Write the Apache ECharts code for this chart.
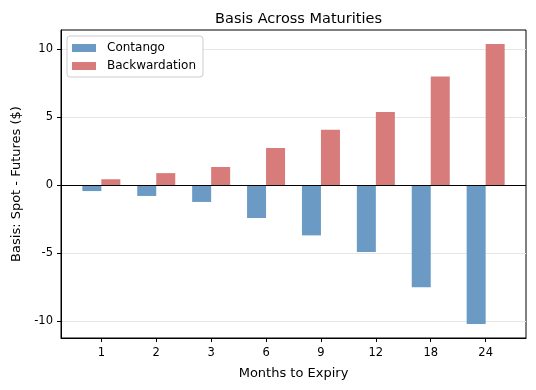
<!DOCTYPE html>
<html>
<head>
<meta charset="utf-8">
<script src="https://cdn.jsdelivr.net/npm/echarts@6/dist/echarts.min.js"></script>
<style>html,body{margin:0;padding:0;background:#fff}#c{width:536px;height:390px}</style>
</head>
<body>
<div id="c"></div>
<script>
const categories = ['1', '2', '3', '6', '9', '12', '18', '24'];
const contango = [-0.42, -0.78, -1.22, -2.4, -3.68, -4.9, -7.5, -10.2];
const backwardation = [0.45, 0.9, 1.35, 2.75, 4.1, 5.4, 8.0, 10.4];
const yTicks = [-10, -5, 0, 5, 10];

const FONT = 'DejaVu Sans';
const chart = echarts.init(document.getElementById('c'), null, {renderer: 'canvas'});
const xIdx = categories.map((c, i) => i);

chart.setOption({
  animation: false,
  textStyle: {fontFamily: FONT},
  title: {
    text: 'Basis Across Maturities', left: 293.5, top: 7, textAlign: 'center',
    textStyle: {fontFamily: FONT, fontSize: 14.5, fontWeight: 'normal', color: '#000'}
  },
  legend: {
    left: 67, top: 36, orient: 'vertical',
    itemWidth: 24, itemHeight: 8, itemGap: 6,
    padding: [6, 7, 5, 5],
    borderColor: '#cccccc', borderWidth: 1, borderRadius: 3,
    backgroundColor: '#fff',
    icon: 'rect',
    textStyle: {fontFamily: FONT, fontSize: 12, color: '#000', padding: [0, 0, 0, 6]},
    data: ['Contango', 'Backwardation']
  },
  grid: {
    left: 61, right: 10, top: 30, bottom: 52,
    show: true, borderColor: '#000', borderWidth: 1, backgroundColor: 'transparent'
  },
  xAxis: {
    type: 'value', min: -0.735, max: 7.735,
    name: 'Months to Expiry', nameLocation: 'middle', nameGap: 29,
    nameTextStyle: {fontFamily: FONT, fontSize: 13, color: '#000'},
    axisLine: {show: true, onZero: false, lineStyle: {color: '#000', width: 1}},
    axisTick: {show: true, length: 4, lineStyle: {color: '#000'}, customValues: xIdx},
    axisLabel: {customValues: xIdx, formatter: v => categories[Math.round(v)], fontFamily: FONT, fontSize: 11.5, color: '#000', margin: 9},
    splitLine: {show: false}
  },
  yAxis: {
    type: 'value', min: -11.23, max: 11.43,
    name: 'Basis: Spot - Futures ($)', nameLocation: 'middle', nameGap: 36,
    nameTextStyle: {fontFamily: FONT, fontSize: 13, color: '#000'},
    axisLine: {show: true, onZero: false, lineStyle: {color: '#000', width: 1}},
    axisTick: {show: true, length: 4, lineStyle: {color: '#000'}, customValues: yTicks},
    axisLabel: {customValues: yTicks, fontFamily: FONT, fontSize: 11.5, color: '#000', margin: 8},
    splitLine: {show: true, lineStyle: {color: '#e6e6e6', width: 1}}
  },
  series: [
    {
      name: 'Contango', type: 'bar', barWidth: 19, barGap: '0%',
      itemStyle: {color: '#6b9bc4'},
      data: contango.map((v, i) => [i, v]),
      markLine: {
        silent: true, symbol: ['none', 'none'], label: {show: false},
        lineStyle: {color: '#000', width: 1, type: 'solid'},
        data: [{yAxis: 0}], z: 5
      }
    },
    {
      name: 'Backwardation', type: 'bar', barWidth: 19, barGap: '0%',
      itemStyle: {color: '#d77b7b'},
      data: backwardation.map((v, i) => [i, v])
    }
  ]
});
</script>
</body>
</html>
